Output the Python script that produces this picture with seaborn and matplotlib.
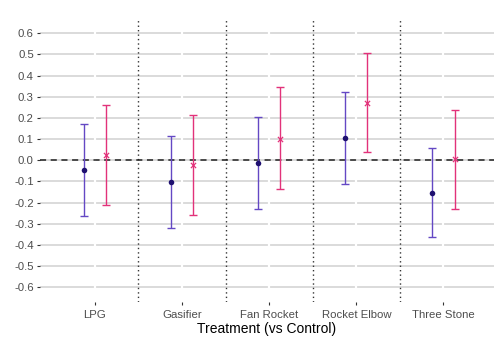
import numpy as np
import pandas as pd
import matplotlib
matplotlib.use("Agg")
import matplotlib.pyplot as plt
import seaborn as sns

categories = ["LPG", "Gasifier", "Fan Rocket", "Rocket Elbow", "Three Stone"]
series_a_est = [-0.046, -0.104, -0.011, 0.105, -0.153]
series_a_lo = [-0.262, -0.320, -0.229, -0.110, -0.362]
series_a_hi = [0.170, 0.115, 0.206, 0.321, 0.060]
series_b_est = [0.024, -0.021, 0.102, 0.272, 0.005]
series_b_lo = [-0.210, -0.257, -0.136, 0.039, -0.229]
series_b_hi = [0.263, 0.214, 0.345, 0.508, 0.238]
y_ticks = [-0.6, -0.5, -0.4, -0.3, -0.2, -0.1, 0.0, 0.1, 0.2, 0.3, 0.4, 0.5, 0.6]

sns.set_theme(style="white")
plt.rcParams['font.family'] = ['Liberation Sans', 'DejaVu Sans']

fig = plt.figure(figsize=(4.94, 3.46), dpi=100)
ax = fig.add_axes([0.081, 0.127, 0.919, 0.821])

rows = []
for i, c in enumerate(categories):
    rows.append(dict(cat=c, pos=i - 0.128, grp="A", est=series_a_est[i], lo=series_a_lo[i], hi=series_a_hi[i]))
    rows.append(dict(cat=c, pos=i + 0.128, grp="B", est=series_b_est[i], lo=series_b_lo[i], hi=series_b_hi[i]))
df = pd.DataFrame(rows)

blue_line = "#6448c4"
blue_pt = "#1e1070"
pink = "#e2327a"

# grid
for t in y_ticks:
    ax.axhline(t, color="#d4d4d4", lw=1.2, zorder=0.2)
for i in range(len(categories)):
    ax.axvline(i, color="white", lw=1.6, zorder=0.3)

# separators
for s in [0.5, 1.5, 2.5, 3.5]:
    ax.axvline(s, color="#333333", lw=1.0, ls=(0, (1, 2.2)), zorder=1)
ax.axhline(0, color="#222222", lw=1.1, ls=(0, (4, 3)), zorder=1.5)

for grp, col in [("A", blue_line), ("B", pink)]:
    d = df[df.grp == grp]
    ax.errorbar(d.pos, d.est, yerr=[d.est - d.lo, d.hi - d.est], fmt="none",
                ecolor=col, elinewidth=1.0, capsize=3.0, capthick=1.0, zorder=2)

sns.scatterplot(data=df[df.grp == "A"], x="pos", y="est", ax=ax, color=blue_pt,
                marker="o", s=16, edgecolor=blue_pt, linewidth=0, zorder=3, legend=False)
sns.scatterplot(data=df[df.grp == "B"], x="pos", y="est", ax=ax, color=pink,
                marker="x", s=14, linewidth=0.9, zorder=3, legend=False)

ax.set_xlim(-0.63, 4.58)
ax.set_ylim(-0.67, 0.672)
ax.set_yticks(y_ticks)
ax.set_yticklabels([f"{t:.1f}" for t in y_ticks])
ax.set_xticks(range(len(categories)))
ax.set_xticklabels(categories)
ax.tick_params(axis="both", labelsize=8.2, labelcolor="#4d4d4d", length=2.5,
               width=0.8, color="#333333", pad=2, bottom=True, left=True)
ax.tick_params(axis="x", pad=3.5)
for sp in ax.spines.values():
    sp.set_visible(False)
ax.set_xlabel("Treatment (vs Control)", fontsize=10, color="black", labelpad=1.5)
ax.set_ylabel("")

fig.savefig("out.png", dpi=100)
